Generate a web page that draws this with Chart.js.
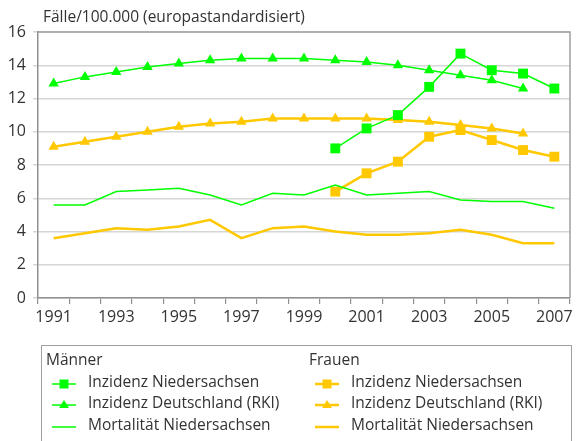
<!DOCTYPE html>
<html>
<head>
<meta charset="utf-8">
<script src="https://cdn.jsdelivr.net/npm/chart.js@4.4.1/dist/chart.umd.min.js"></script>
<style>
  html, body { margin:0; padding:0; background:#fff; }
  body { width:577px; height:441px; position:relative; overflow:hidden; font-family:"Open Sans", sans-serif; color:#333; }
  #wrap { position:absolute; left:0; top:0; width:577px; height:441px; }
  #title { position:absolute; left:43px; top:5px; font-size:15.5px; color:#333; white-space:nowrap; }
  #legend { position:absolute; left:41px; top:345px; width:531px; height:120px; border:1px solid #a0a0a0; box-sizing:border-box; }
  .hdr { position:absolute; font-size:15.5px; color:#333; line-height:20px; }
  .item { position:absolute; font-size:15.5px; color:#333; line-height:20px; white-space:nowrap; }
  .sym { position:absolute; }
</style>
</head>
<body>
<div id="wrap"><canvas id="c" width="577" height="441"></canvas></div>
<div id="title">Fälle/100.000 (europastandardisiert)</div>
<div id="legend"></div>
<script>
const years = ["1991","1992","1993","1994","1995","1996","1997","1998","1999","2000","2001","2002","2003","2004","2005","2006","2007"];
const menIncNds   = [null,null,null,null,null,null,null,null,null,9.0,10.2,11.0,12.7,14.7,13.7,13.5,12.6];
const menIncRKI   = [12.9,13.3,13.6,13.9,14.1,14.3,14.4,14.4,14.4,14.3,14.2,14.0,13.7,13.4,13.1,12.6,null];
const menMortNds  = [5.6,5.6,6.4,6.5,6.6,6.2,5.6,6.3,6.2,6.8,6.2,6.3,6.4,5.9,5.8,5.8,5.4];
const womIncNds   = [null,null,null,null,null,null,null,null,null,6.4,7.5,8.2,9.7,10.1,9.5,8.9,8.5];
const womIncRKI   = [9.1,9.4,9.7,10.0,10.3,10.5,10.6,10.8,10.8,10.8,10.8,10.7,10.6,10.4,10.2,9.9,null];
const womMortNds  = [3.6,3.9,4.2,4.1,4.3,4.7,3.6,4.2,4.3,4.0,3.8,3.8,3.9,4.1,3.8,3.3,3.3];
const yTicks = [0,2,4,6,8,10,12,14,16];
const groupMen = "Männer", groupWomen = "Frauen";
const labelsSeries = ["Inzidenz Niedersachsen","Inzidenz Deutschland (RKI)","Mortalität Niedersachsen"];

const GREEN = '#00ff00', YELLOW = '#ffc800';

function ds(label, data, color, width, style, radius) {
  return { label, data, borderColor: color, backgroundColor: color, borderWidth: width,
    pointStyle: style || 'circle', pointRadius: style ? radius : 0, pointHoverRadius: style ? radius : 0,
    pointBorderWidth: 0, tension: 0, spanGaps: false, fill: false };
}

const frame = {
  id: 'frame',
  afterDraw(chart) {
    const a = chart.chartArea, ctx = chart.ctx;
    ctx.save();
    ctx.strokeStyle = '#a0a0a0'; ctx.lineWidth = 1.5;
    ctx.beginPath();
    ctx.moveTo(a.left, a.top); ctx.lineTo(a.right, a.top); ctx.lineTo(a.right, a.bottom);
    ctx.stroke();
    ctx.restore();
  }
};

new Chart(document.getElementById('c'), {
  type: 'line',
  data: {
    labels: years,
    datasets: [
      ds(groupMen + ' ' + labelsSeries[0], menIncNds, GREEN, 1.5, 'rect', 7),
      ds(groupMen + ' ' + labelsSeries[1], menIncRKI, GREEN, 1.5, 'triangle', 6),
      ds(groupMen + ' ' + labelsSeries[2], menMortNds, GREEN, 1.5, null, 0),
      ds(groupWomen + ' ' + labelsSeries[0], womIncNds, YELLOW, 2.5, 'rect', 7),
      ds(groupWomen + ' ' + labelsSeries[1], womIncRKI, YELLOW, 2.5, 'triangle', 6),
      ds(groupWomen + ' ' + labelsSeries[2], womMortNds, YELLOW, 2.5, null, 0)
    ]
  },
  options: {
    responsive: false, animation: false, devicePixelRatio: 1,
    layout: { padding: { left: 0, top: 32, right: 7, bottom: 108 } },
    plugins: { legend: { display: false }, tooltip: { enabled: false }, title: { display: false } },
    scales: {
      x: {
        type: 'category', offset: true,
        grid: { offset: true, drawOnChartArea: false, drawTicks: true, tickLength: 6, color: '#909090', lineWidth: 1.2 },
        border: { display: true, color: '#909090', width: 1.5 },
        ticks: { autoSkip: false, maxRotation: 0, minRotation: 0, padding: 4, color: '#333',
          font: { family: 'Open Sans', size: 16 },
          callback: function(v, i) { const y = years[i]; return (parseInt(y) % 2 === 1) ? y : ''; } },
        afterFit(scale) { scale.height = 35; }
      },
      y: {
        min: 0, max: 16,
        afterBuildTicks(scale) { scale.ticks = yTicks.map(v => ({ value: v })); },
        grid: { color: '#d6d6d6', lineWidth: 1.5, drawTicks: true, tickLength: 5 },
        border: { display: true, color: '#909090', width: 1.5 },
        ticks: { padding: 7, color: '#333', font: { family: 'Open Sans', size: 16 } },
        afterFit(scale) { scale.width = 38; }
      }
    }
  },
  plugins: [frame]
});

// HTML legend
const leg = document.getElementById('legend');
function svgSym(color, width, style) {
  let s = `<svg width="26" height="14" viewBox="0 0 26 14"><line x1="1" y1="7" x2="25" y2="7" stroke="${color}" stroke-width="${width}"/>`;
  if (style === 'rect') s += `<rect x="8.5" y="2.5" width="9" height="9" fill="${color}"/>`;
  if (style === 'triangle') s += `<polygon points="13,2 18,10 8,10" fill="${color}"/>`;
  return s + '</svg>';
}
const cols = [
  { hdr: groupMen, x: 4, color: GREEN, w: 1.5 },
  { hdr: groupWomen, x: 267, color: YELLOW, w: 2.5 }
];
const styles = ['rect', 'triangle', null];
const rowsY = [381, 402, 424];
cols.forEach(c => {
  const h = document.createElement('div');
  h.className = 'hdr'; h.textContent = c.hdr;
  h.style.left = c.x + 'px'; h.style.top = (359 - 345 - 10 - 1) + 'px';
  leg.appendChild(h);
  labelsSeries.forEach((t, i) => {
    const sy = document.createElement('div');
    sy.className = 'sym'; sy.innerHTML = svgSym(c.color, c.w, styles[i]);
    sy.style.left = (c.x + 5) + 'px'; sy.style.top = (rowsY[i] - 345 - 7 - 1) + 'px';
    leg.appendChild(sy);
    const d = document.createElement('div');
    d.className = 'item'; d.textContent = t;
    d.style.left = (c.x + 42) + 'px'; d.style.top = (rowsY[i] - 345 - 10 - 1) + 'px';
    leg.appendChild(d);
  });
});
</script>
</body>
</html>
